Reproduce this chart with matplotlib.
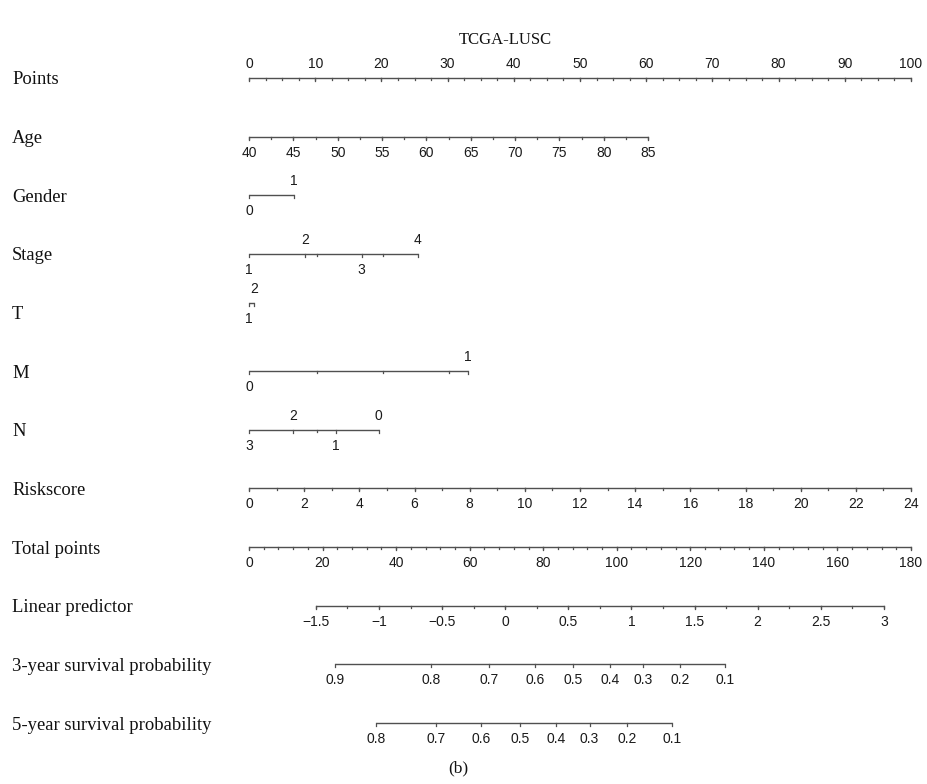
import matplotlib
matplotlib.use('Agg')
import matplotlib.pyplot as plt
import matplotlib.transforms as mtransforms
import numpy as np

# row names, top to bottom
row_names = ['Points', 'Age', 'Gender', 'Stage', 'T', 'M', 'N', 'Riskscore',
             'Total points', 'Linear predictor', '3-year survival probability',
             '5-year survival probability']

# continuous scales: tick values and the points (0-100) at their two ends
points_ticks = [0, 10, 20, 30, 40, 50, 60, 70, 80, 90, 100]
age_ticks = [40, 45, 50, 55, 60, 65, 70, 75, 80, 85]
age_end_points = [0, 60.3]
risk_ticks = [0, 2, 4, 6, 8, 10, 12, 14, 16, 18, 20, 22, 24]
risk_end_points = [0, 100]
total_ticks = [0, 20, 40, 60, 80, 100, 120, 140, 160, 180]
total_max = 180
lp_ticks = [-1.5, -1, -0.5, 0, 0.5, 1, 1.5, 2, 2.5, 3]
lp_end_total = [18.2, 172.6]

# categorical variables: levels and their points
gender_levels = ['0', '1']
gender_points = [0, 6.8]
stage_levels = ['1', '2', '3', '4']
stage_points = [0, 8.5, 17.0, 25.5]
t_levels = ['1', '2']
t_points = [0, 0.8]
m_levels = ['0', '1']
m_points = [0, 33.1]
n_levels = ['3', '2', '1', '0']
n_points = [0, 6.6, 13.1, 19.6]

# survival probabilities and their total points
surv3_labels = ['0.9', '0.8', '0.7', '0.6', '0.5', '0.4', '0.3', '0.2', '0.1']
surv3_total = [23.4, 49.4, 65.3, 77.8, 88.1, 98.2, 107.1, 117.2, 129.4]
surv5_labels = ['0.8', '0.7', '0.6', '0.5', '0.4', '0.3', '0.2', '0.1']
surv5_total = [34.6, 50.8, 63.2, 73.6, 83.4, 92.6, 102.7, 115.0]

W, H = 927, 784
fig = plt.figure(figsize=(W / 100, H / 100), dpi=100)
# axes: x in points (0..100), y in row index
x0, x1 = 249, 911
y0, y1 = 78, 723
ax = fig.add_axes([x0 / W, 1 - y1 / H, (x1 - x0) / W, (y1 - y0) / H])
ax.set_xlim(0, 100)
ax.set_ylim(11, 0)
ax.axis('off')

line_col = '#505050'
txt_col = '#1a1a1a'
serif = ['Liberation Serif', 'DejaVu Serif']
sans = ['Liberation Sans', 'DejaVu Sans']
px = 1 / ((y1 - y0) / 11)  # one pixel in row units


def tick_marks(xs, y, ln=3):
    for x in xs:
        ax.plot([x, x], [y, y + ln * px], color=line_col, lw=0.9, clip_on=False)


def draw_line(xa, xb, y):
    ax.plot([xa, xb], [y, y], color=line_col, lw=1.0, solid_capstyle='butt',
            clip_on=False)


def label(x, y, s, where):
    dy = -14 * px if where == 'above' else 16 * px
    ax.text(x, y + dy, s, ha='center', va='center', fontsize=10,
            family=sans, color=txt_col)


def continuous(row, ticks, tpos, minor_pos, where):
    draw_line(tpos[0], tpos[-1], row)
    tick_marks(minor_pos, row, 2)
    tick_marks(tpos, row, 3)
    for v, x in zip(ticks, tpos):
        label(x, row, ('%g' % v).replace('-', '\u2212'), where)


def categorical(row, levels, pts, yoff=0):
    y = row + yoff
    draw_line(pts[0], pts[-1], y)
    extra = [p for p in [10.2, 20.2, 30.2] if p < pts[-1]]
    tick_marks(extra, y, 2)
    tick_marks(pts, y, 3)
    for i, (lv, p) in enumerate(zip(levels, pts)):
        label(p, y, lv, 'below' if i % 2 == 0 else 'above')


# Points
pp = np.array(points_ticks, float)
continuous(0, points_ticks, pp, np.arange(0, 100.01, 2.5), 'above')

# Age
age_pos = np.interp(age_ticks, [age_ticks[0], age_ticks[-1]], age_end_points)
age_minor = np.interp(np.arange(40, 85.01, 2.5), [age_ticks[0], age_ticks[-1]], age_end_points)
continuous(1, age_ticks, age_pos, age_minor, 'below')

categorical(2, gender_levels, gender_points)
categorical(3, stage_levels, stage_points)
categorical(4, t_levels, t_points, yoff=-0.17)
categorical(5, m_levels, m_points)
categorical(6, n_levels, n_points)

# Riskscore
rk_pos = np.interp(risk_ticks, [0, 24], risk_end_points)
rk_minor = np.interp(np.arange(0, 24.01, 1), [0, 24], risk_end_points)
continuous(7, risk_ticks, rk_pos, rk_minor, 'below')

# Total points
tp_scale = 100 / total_max
continuous(8, total_ticks, np.array(total_ticks) * tp_scale,
           np.arange(0, 180.01, 4) * tp_scale, 'below')

# Linear predictor
lp_pos = np.interp(lp_ticks, [lp_ticks[0], lp_ticks[-1]], lp_end_total) * tp_scale
lp_minor = np.interp(np.arange(-1.5, 3.01, 0.25), [lp_ticks[0], lp_ticks[-1]], lp_end_total) * tp_scale
continuous(9, lp_ticks, lp_pos, lp_minor, 'below')

# survival
s3 = np.array(surv3_total) * tp_scale
draw_line(s3[0], s3[-1], 10)
tick_marks(s3, 10, 3)
for s, x in zip(surv3_labels, s3):
    label(x, 10, s, 'below')
s5 = np.array(surv5_total) * tp_scale
draw_line(s5[0], s5[-1], 11)
tick_marks(s5, 11, 3)
for s, x in zip(surv5_labels, s5):
    label(x, 11, s, 'below')

# row labels
trans = mtransforms.blended_transform_factory(fig.transFigure, ax.transData)
for i, name in enumerate(row_names):
    ax.text(12 / W, i + 2 * px, name, transform=trans, ha='left', va='center',
            fontsize=13.4, family=serif, color='#111111')

fig.text(505 / W, 1 - 40 / H, 'TCGA-LUSC', ha='center', va='center',
         fontsize=12, family=serif, color='#111111')
fig.text(458 / W, 1 - 768 / H, '(b)', ha='center', va='center',
         fontsize=12.5, family=serif, color='#111111')

fig.savefig('out.png', dpi=100, facecolor='white')
